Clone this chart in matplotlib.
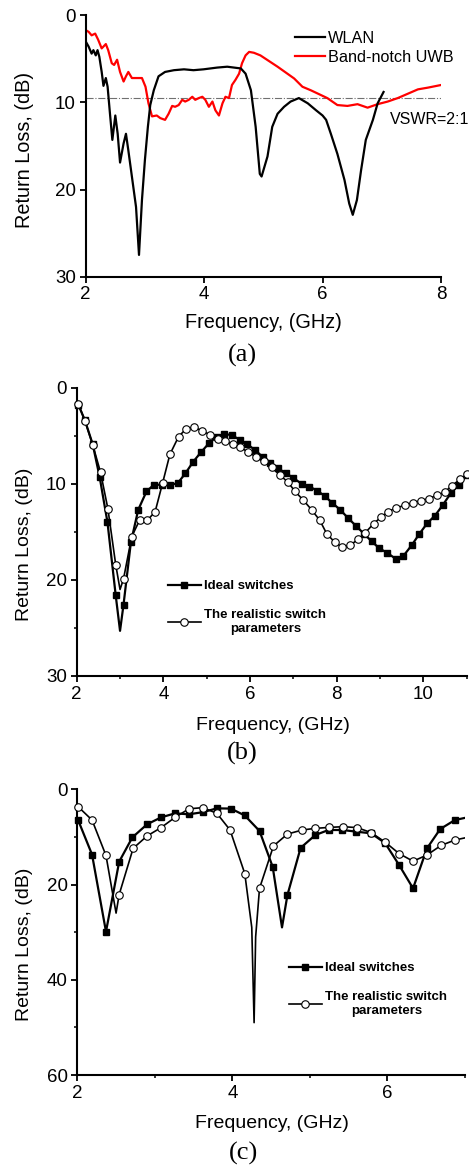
import matplotlib
matplotlib.use('Agg')
import matplotlib.pyplot as plt
from matplotlib.lines import Line2D
from matplotlib.ticker import MultipleLocator

plt.rcParams['font.family'] = ['Liberation Sans', 'DejaVu Sans']

W, H = 469, 1172

# ---- (a) WLAN / band-notch UWB ----
wlan_f = [2.00, 2.05, 2.10, 2.13, 2.17, 2.20, 2.23, 2.27, 2.30, 2.34, 2.37, 2.41, 2.45, 2.50, 2.54,
          2.58, 2.64, 2.68, 2.72, 2.78, 2.85, 2.90, 2.95, 3.00, 3.05, 3.09, 3.15, 3.23, 3.34, 3.49,
          3.66, 3.82, 3.99, 4.22, 4.39, 4.62, 4.70, 4.79, 4.87, 4.94, 4.97, 5.07, 5.15, 5.24, 5.35,
          5.46, 5.60, 5.75, 5.89, 6.00, 6.06, 6.14, 6.25, 6.37, 6.45, 6.51, 6.58, 6.65, 6.73, 6.85,
          6.93, 7.03]
wlan_rl = [3.0, 3.6, 4.4, 4.0, 4.6, 4.0, 4.75, 6.5, 8.1, 7.2, 8.2, 11.3, 14.3, 11.5, 13.6,
           16.9, 14.7, 13.6, 15.5, 18.5, 22.0, 27.5, 21.2, 16.6, 12.8, 10.3, 8.6, 7.0, 6.5, 6.3,
           6.2, 6.3, 6.2, 6.0, 5.9, 6.1, 6.7, 8.6, 12.8, 18.2, 18.5, 16.2, 12.8, 11.3, 10.5,
           9.9, 9.5, 10.1, 10.9, 11.5, 12.0, 13.6, 15.9, 18.9, 21.6, 22.9, 21.2, 17.8, 14.3, 12.0,
           10.1, 8.8]
uwb_f = [2.00, 2.05, 2.10, 2.16, 2.21, 2.27, 2.34, 2.38, 2.44, 2.48, 2.53, 2.58, 2.64, 2.68, 2.72,
         2.78, 2.86, 2.95, 3.01, 3.06, 3.12, 3.20, 3.26, 3.34, 3.40, 3.46, 3.51, 3.57, 3.63, 3.68,
         3.74, 3.80, 3.85, 3.91, 3.97, 4.02, 4.08, 4.14, 4.19, 4.25, 4.31, 4.36, 4.42, 4.47, 4.53,
         4.59, 4.64, 4.70, 4.76, 4.84, 4.95, 5.24, 5.52, 5.66, 5.80, 6.08, 6.25, 6.42, 6.59, 6.76,
         6.93, 7.10, 7.27, 7.44, 7.61, 7.78, 8.00]
uwb_rl = [1.7, 1.9, 2.3, 2.1, 2.8, 3.8, 3.3, 4.0, 5.5, 5.7, 5.1, 6.5, 7.6, 7.0, 6.5,
          7.2, 7.2, 7.2, 8.2, 10.1, 11.6, 11.5, 11.8, 12.0, 11.3, 10.4, 10.5, 10.3, 9.7, 9.9,
          9.7, 9.35, 9.7, 9.5, 9.35, 9.7, 10.5, 9.9, 10.9, 11.5, 10.1, 9.35, 9.5, 8.0, 7.4,
          6.7, 5.5, 4.6, 4.2, 4.3, 4.6, 5.9, 7.25, 8.2, 8.6, 9.5, 10.3, 10.4, 10.2, 10.6,
          10.2, 9.9, 9.5, 9.0, 8.5, 8.3, 8.0]
vswr_f = [2, 8]
vswr_rl = 9.54

# ---- (b) ideal vs realistic switches ----
b_ideal_f = [2.04, 2.19, 2.37, 2.53, 2.71, 2.90, 3.08, 3.25, 3.42, 3.61, 3.78, 3.97, 4.15, 4.33,
             4.51, 4.69, 4.87, 5.05, 5.23, 5.41, 5.58, 5.76, 5.94, 6.12, 6.29, 6.47, 6.65, 6.83,
             7.00, 7.19, 7.37, 7.55, 7.73, 7.90, 8.08, 8.27, 8.45, 8.63, 8.81, 8.98, 9.17, 9.36,
             9.54, 9.73, 9.91, 10.09, 10.27, 10.45, 10.63, 10.82, 11.00]
b_ideal_rl = [1.8, 3.4, 5.9, 9.3, 14.0, 21.6, 22.6, 16.1, 12.7, 10.8, 10.1, 10.1, 10.1, 9.95,
              8.9, 7.7, 6.7, 5.8, 5.1, 4.8, 4.95, 5.4, 5.9, 6.5, 7.2, 7.8, 8.4, 8.9,
              9.4, 10.0, 10.3, 10.7, 11.3, 12.0, 12.7, 13.6, 14.4, 15.2, 16.0, 16.7, 17.2, 17.8,
              17.5, 16.4, 15.2, 14.1, 13.3, 12.2, 11.0, 10.1, 9.1]
b_ideal_dip_f = [3.0]
b_ideal_dip_rl = [25.3]
b_real_f = [2.04, 2.19, 2.37, 2.55, 2.72, 2.90, 3.08, 3.27, 3.45, 3.63, 3.81, 3.98, 4.15, 4.35,
            4.52, 4.71, 4.90, 5.08, 5.25, 5.42, 5.60, 5.77, 5.96, 6.14, 6.32, 6.50, 6.69, 6.87,
            7.04, 7.23, 7.42, 7.61, 7.77, 7.96, 8.13, 8.31, 8.50, 8.66, 8.85, 9.03, 9.19, 9.37,
            9.57, 9.76, 9.95, 10.12, 10.31, 10.49, 10.65, 10.85, 11.00]
b_real_rl = [1.7, 3.45, 5.95, 8.8, 12.6, 18.4, 19.9, 15.5, 13.8, 13.8, 12.9, 9.96, 6.95, 5.1,
             4.3, 4.1, 4.5, 4.9, 5.3, 5.5, 5.9, 6.2, 6.7, 7.2, 7.65, 8.3, 9.1, 9.8,
             10.8, 11.7, 12.7, 13.8, 15.2, 16.1, 16.6, 16.4, 15.75, 15.1, 14.15, 13.45, 12.9, 12.5,
             12.25, 11.95, 11.75, 11.55, 11.2, 10.9, 10.2, 9.55, 9.0]
b_real_dip_f = [3.0]
b_real_dip_rl = [21.0]

# ---- (c) ideal vs realistic switches, second state ----
c_ideal_f = [2.01, 2.19, 2.37, 2.54, 2.71, 2.90, 3.08, 3.26, 3.44, 3.62, 3.80, 3.98, 4.16, 4.35,
             4.52, 4.71, 4.88, 5.07, 5.24, 5.42, 5.60, 5.79, 5.97, 6.15, 6.33, 6.51, 6.68, 6.87]
c_ideal_rl = [6.45, 13.7, 29.9, 15.2, 10.1, 7.35, 5.9, 5.05, 5.25, 4.8, 4.0, 4.05, 5.5, 8.75,
              16.3, 22.2, 12.3, 9.6, 8.55, 8.55, 8.9, 9.25, 11.3, 15.9, 20.8, 12.4, 8.35, 6.45]
c_ideal_dip_f = [4.64, 7.0]
c_ideal_dip_rl = [29.0, 6.0]
c_real_f = [2.01, 2.19, 2.37, 2.54, 2.72, 2.90, 3.08, 3.26, 3.44, 3.62, 3.80, 3.97, 4.16, 4.35,
            4.53, 4.71, 4.90, 5.07, 5.25, 5.43, 5.61, 5.79, 5.97, 6.15, 6.33, 6.51, 6.69, 6.87]
c_real_rl = [3.65, 6.45, 13.9, 22.1, 12.4, 9.8, 8.05, 5.9, 4.1, 3.85, 5.05, 8.55, 17.7, 20.8,
             11.9, 9.4, 8.55, 8.2, 8.0, 7.85, 8.05, 9.1, 11.1, 13.5, 15.1, 13.8, 11.8, 10.65]
c_real_dip_f = [2.50, 4.25, 4.28, 4.30, 7.0]
c_real_dip_rl = [26.0, 29.0, 49.0, 31.0, 10.2]

legend_labels = ['Ideal switches', 'The realistic switch\nparameters']


def box(left, top, right, bottom):
    # pixel box -> figure fraction
    return [left / W, 1 - bottom / H, (right - left) / W, (bottom - top) / H]


def with_dips(f, rl, df, drl):
    pts = sorted(zip(list(f) + list(df), list(rl) + list(drl)))
    return [p[0] for p in pts], [p[1] for p in pts]


def style_axes(ax, xlim, ylim, xstep, ystep, xminor=None, yminor=None):
    ax.set_xlim(*xlim)
    ax.set_ylim(ylim[1], ylim[0])
    ax.xaxis.set_major_locator(MultipleLocator(xstep))
    ax.yaxis.set_major_locator(MultipleLocator(ystep))
    if xminor:
        ax.xaxis.set_minor_locator(MultipleLocator(xminor))
    if yminor:
        ax.yaxis.set_minor_locator(MultipleLocator(yminor))
    for s in ['top', 'right']:
        ax.spines[s].set_visible(False)
    for s in ['left', 'bottom']:
        ax.spines[s].set_linewidth(1.5)
    ax.tick_params(direction='out', length=4, width=1.3, labelsize=13.5, pad=3)
    ax.tick_params(which='minor', direction='out', length=2.5, width=1.1)


def text_px(fig, x, y, s, **kw):
    fig.text(x / W, 1 - y / H, s, ha='center', va='center', **kw)


fig = plt.figure(figsize=(W / 100, H / 100), dpi=100)

# ---------- (a) ----------
ax_a = fig.add_axes(box(85.7, 15.3, 441, 276.7))
ax_a.plot(vswr_f, [vswr_rl, vswr_rl], color='#707070', lw=0.8, ls='-.', zorder=1)
ax_a.plot(wlan_f, wlan_rl, color='black', lw=1.6, label='WLAN', zorder=3)
ax_a.plot(uwb_f, uwb_rl, color='#ff0000', lw=1.6, label='Band-notch UWB', zorder=2)
style_axes(ax_a, (2, 8), (0, 30), 2, 10)
ax_a.text(7.14, 12.0, 'VSWR=2:1', fontsize=11.5, ha='left', va='center', clip_on=False)
ax_a.legend(loc='center left', bbox_to_anchor=(295 / W, 1 - 48 / H), bbox_transform=fig.transFigure,
            frameon=False, fontsize=11.7, handlelength=1.85, handletextpad=0.2,
            labelspacing=0.25, borderpad=0, borderaxespad=0)
text_px(fig, 263, 323, 'Frequency, (GHz)', fontsize=14.3)
text_px(fig, 25, 150, 'Return Loss, (dB)', fontsize=14.3, rotation=90)
text_px(fig, 242.5, 355, '(a)', fontsize=19, family='Liberation Serif')

# ---------- (b) and (c) ----------
panels = [
    dict(rect=box(76.7, 387.7, 466.7, 676), xlim=(2, 11), ylim=(0, 30), ystep=10, yminor=5,
         ideal=(b_ideal_f, b_ideal_rl, b_ideal_dip_f, b_ideal_dip_rl),
         real=(b_real_f, b_real_rl, b_real_dip_f, b_real_dip_rl),
         leg=(168, 580), xl=(272.5, 725), yl=(25, 544), tag=(242.5, 753, '(b)')),
    dict(rect=box(77.3, 789.3, 465, 1075), xlim=(2, 7), ylim=(0, 60), ystep=20, yminor=10,
         ideal=(c_ideal_f, c_ideal_rl, c_ideal_dip_f, c_ideal_dip_rl),
         real=(c_real_f, c_real_rl, c_real_dip_f, c_real_dip_rl),
         leg=(289, 962), xl=(271.7, 1123), yl=(25, 944), tag=(243, 1153, '(c)')),
]

for p in panels:
    ax = fig.add_axes(p['rect'])
    f, rl, df, drl = p['ideal']
    lf, lrl = with_dips(f, rl, df, drl)
    ax.plot(lf, lrl, color='black', lw=1.6, zorder=2)
    ax.plot(f, rl, ls='none', marker='s', ms=4.8, color='black', zorder=3, clip_on=False)
    f, rl, df, drl = p['real']
    lf, lrl = with_dips(f, rl, df, drl)
    ax.plot(lf, lrl, color='black', lw=1.2, zorder=2)
    ax.plot(f, rl, ls='none', marker='o', ms=5.4, mfc='white', mec='black', mew=0.8,
            zorder=4, clip_on=False)
    style_axes(ax, p['xlim'], p['ylim'], 2, p['ystep'], 1, p['yminor'])

    handles = [Line2D([], [], color='black', lw=1.6, marker='s', ms=4.8),
               Line2D([], [], color='black', lw=1.2, marker='o', ms=5.4, mfc='white', mew=0.8)]
    lx, ly = p['leg']
    leg = ax.legend(handles, legend_labels, loc='upper left', bbox_to_anchor=(lx / W, 1 - ly / H),
                    bbox_transform=fig.transFigure, frameon=False,
                    prop={'weight': 'bold', 'size': 9.5}, handlelength=2.5, handletextpad=0.25,
                    labelspacing=1.25, borderpad=0, borderaxespad=0)
    for t in leg.get_texts():
        t.set_multialignment('center')

    text_px(fig, p['xl'][0], p['xl'][1], 'Frequency, (GHz)', fontsize=14)
    text_px(fig, p['yl'][0], p['yl'][1], 'Return Loss, (dB)', fontsize=14, rotation=90)
    text_px(fig, p['tag'][0], p['tag'][1], p['tag'][2], fontsize=19, family='Liberation Serif')

fig.savefig('out.png', dpi=100)
